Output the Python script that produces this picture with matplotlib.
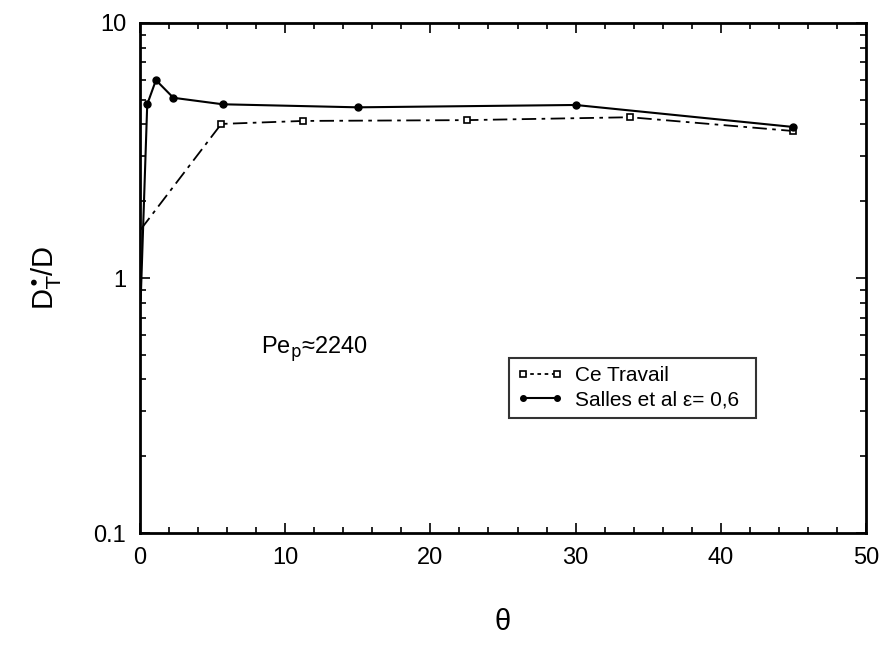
import numpy as np
import matplotlib.pyplot as plt
from matplotlib.lines import Line2D
from matplotlib.ticker import MultipleLocator, LogLocator, NullFormatter, FixedLocator, FixedFormatter

plt.rcParams['font.family'] = ['Liberation Sans', 'DejaVu Sans']

# Ce Travail (open squares, dash-dot)
theta_ct = [0.05, 5.6, 11.25, 22.5, 33.75, 45]
d_ct = [1.55, 4.02, 4.13, 4.16, 4.27, 3.77]

# Salles et al, eps = 0.6 (filled circles, solid)
theta_sa = [0.05, 0.5, 1.1, 2.3, 5.7, 15, 30, 45]
d_sa = [0.82, 4.8, 5.97, 5.09, 4.8, 4.67, 4.77, 3.91]

y_ticks = [0.1, 1, 10]
y_labels = ['0.1', '1', '10']

dashdot = (0, (8, 3, 2, 3))

fig = plt.figure(figsize=(8.82, 6.46), dpi=100)
ax = fig.add_axes([0.1587, 0.1749, 0.8232, 0.7895])

# lines (the first point is only where the curve starts, no marker there)
ax.plot(theta_ct, d_ct, color='black', lw=1.3, ls=dashdot)
ax.plot(theta_ct[1:], d_ct[1:], ls='none', marker='s', ms=4,
        mfc='white', mec='black', mew=1.2)
ax.plot(theta_sa, d_sa, color='black', lw=1.5, ls='-')
ax.plot(theta_sa[1:], d_sa[1:], ls='none', marker='o', ms=5,
        mfc='black', mec='black')

ax.set_yscale('log')
ax.set_xlim(0, 50)
ax.set_ylim(0.1, 10)

ax.xaxis.set_major_locator(MultipleLocator(10))
ax.xaxis.set_minor_locator(MultipleLocator(2))
ax.yaxis.set_major_locator(FixedLocator(y_ticks))
ax.yaxis.set_major_formatter(FixedFormatter(y_labels))
ax.yaxis.set_minor_locator(LogLocator(base=10, subs=np.arange(2, 10)))
ax.yaxis.set_minor_formatter(NullFormatter())

ax.tick_params(which='both', direction='in', top=True, right=True, width=1.2)
ax.tick_params(which='major', length=7, labelsize=17, pad=10)
ax.tick_params(which='minor', length=4)
for s in ax.spines.values():
    s.set_linewidth(2)

ax.set_xlabel('θ', fontsize=21, labelpad=28)
ax.set_ylabel(r'D$^{\bullet}_{\mathrm{T}}$/D', fontsize=21, labelpad=22)

ax.text(0.24, 0.36, r'Pe$_{\mathrm{p}}$≈2240', transform=ax.transAxes,
        fontsize=17, ha='center', va='center')

handles = [
    Line2D([], [], color='black', lw=1.3, ls=(0, (2, 2)), marker='s', ms=4,
           mfc='white', mec='black', mew=1.2),
    Line2D([], [], color='black', lw=1.5, ls='-', marker='o', ms=4,
           mfc='black', mec='black'),
]
labels = ['Ce Travail', 'Salles et al ε= 0,6']
leg = ax.legend(handles, labels, loc='lower left',
                bbox_to_anchor=(0.508, 0.2255, 0.34, 0.147),
                mode='expand', fontsize=15, frameon=True, fancybox=False,
                edgecolor='black', handlelength=2.2, numpoints=2,
                borderaxespad=0, handletextpad=0.6, labelspacing=0.25)
leg.get_frame().set_linewidth(1.5)

fig.savefig('out.png', dpi=100)
